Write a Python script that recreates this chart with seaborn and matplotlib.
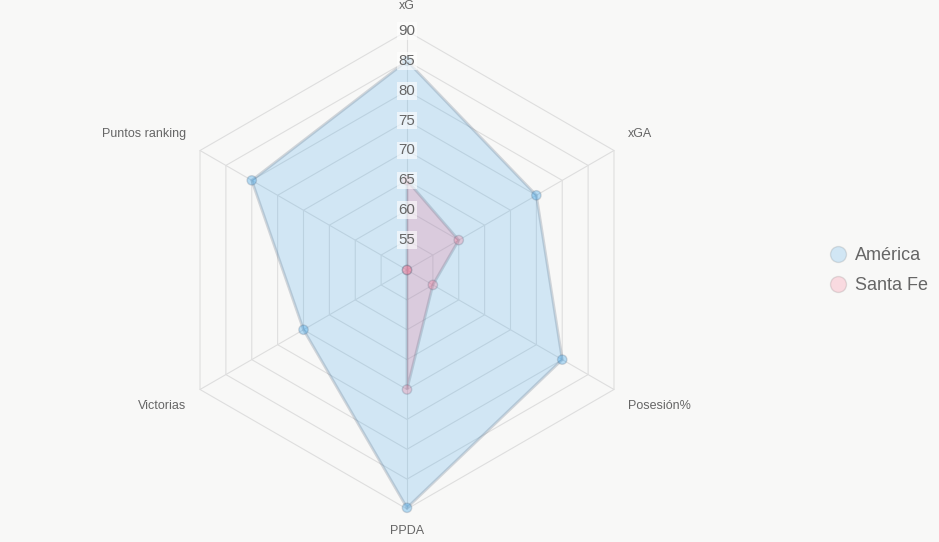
import numpy as np
import pandas as pd
import seaborn as sns
import matplotlib.pyplot as plt
from matplotlib.lines import Line2D

# ---- data ----
categories = ["xG", "xGA", "Posesión%", "PPDA", "Victorias", "Puntos ranking"]
america = [85, 75, 80, 89.8, 70, 80]
santa_fe = [65, 60, 55, 70, 50, 50]
series_names = ["América", "Santa Fe"]
tick_values = [55, 60, 65, 70, 75, 80, 85, 90]
r_min, r_max = 50, 90

# ---- styling ----
BG = "#f8f8f7"
W, H = 939, 542
CX, CY = 407, 270
PX = 239 / (r_max - r_min)  # pixels per data unit

fills = {"América": (54/255, 162/255, 235/255, 0.2), "Santa Fe": (255/255, 99/255, 132/255, 0.2)}
points = {"América": (54/255, 162/255, 235/255, 0.35), "Santa Fe": (255/255, 99/255, 132/255, 0.25)}
edge = (0.35, 0.42, 0.5, 0.25)

sns.set_theme(style="white")
plt.rcParams['font.family'] = ['Liberation Sans', 'DejaVu Sans']

n = len(categories)
angles = np.arange(n) * 2 * np.pi / n  # clockwise from top


def to_xy(vals):
    r = np.clip(np.asarray(vals, dtype=float), r_min, None) - r_min
    return r * np.sin(angles), r * np.cos(angles)


rows = []
for name, vals in zip(series_names, [america, santa_fe]):
    x, y = to_xy(vals)
    for c, v, xi, yi in zip(categories, vals, x, y):
        rows.append({"team": name, "cat": c, "value": v, "x": xi, "y": yi})
df = pd.DataFrame(rows)

fig = plt.figure(figsize=(W / 100, H / 100), dpi=100, facecolor=BG)
ax = fig.add_axes([0, 0, 1, 1])
ax.set_facecolor(BG)
ax.set_xlim(-CX / PX, (W - CX) / PX)
ax.set_ylim(-(H - CY) / PX, CY / PX)
ax.axis("off")

# grid rings (hexagons) and spokes
grid_col = "#dedede"
for t in tick_values:
    r = t - r_min
    gx = np.append(r * np.sin(angles), r * np.sin(angles[0]))
    gy = np.append(r * np.cos(angles), r * np.cos(angles[0]))
    ax.plot(gx, gy, color=grid_col, lw=0.8, zorder=1)
R = r_max - r_min
for a in angles:
    ax.plot([0, R * np.sin(a)], [0, R * np.cos(a)], color=grid_col, lw=0.8, zorder=1)

# polygons
for name in series_names:
    d = df[df.team == name]
    ax.fill(d.x, d.y, facecolor=fills[name], edgecolor=edge, lw=2.0, zorder=2,
            joinstyle="miter")

sns.scatterplot(data=df, x="x", y="y", hue="team", palette=points, s=45,
                edgecolor=[edge] * len(df), linewidth=1.0, legend=False, ax=ax, zorder=3)

# tick labels
for t in tick_values:
    ax.text(0, t - r_min, str(t), ha="center", va="center", fontsize=10.8, color="#666666",
            zorder=5, bbox=dict(facecolor=(1, 1, 1, 0.6), edgecolor="none",
                                boxstyle="square,pad=0.12"))

# category labels (offset from each spoke's outer vertex)
for c, a in zip(categories, angles):
    s, co = np.sin(a), np.cos(a)
    if abs(s) < 1e-6:
        ha = "center"
        lx, ly = 0, (264 if co > 0 else -261) / PX
    else:
        ha = "left" if s > 0 else "right"
        lx, ly = np.sign(s) * 221 / PX, np.sign(co) * 136 / PX
    ax.text(lx, ly, c, ha=ha, va="center", fontsize=9, color="#666666", zorder=5)

# legend
handles = [Line2D([0], [0], marker="o", linestyle="none", markersize=11.5,
                  markerfacecolor=fills[nm], markeredgecolor=(0, 0, 0, 0.1),
                  markeredgewidth=1.0) for nm in series_names]
leg = ax.legend(handles, series_names, loc="center left",
                bbox_to_anchor=(829 / W, 1 - 271 / H), bbox_transform=fig.transFigure,
                frameon=False, fontsize=13, handlelength=1.0, handletextpad=0.45,
                labelspacing=0.72, borderpad=0, borderaxespad=0)
for txt in leg.get_texts():
    txt.set_color("#666666")

fig.savefig("out.png", dpi=100, facecolor=BG)
